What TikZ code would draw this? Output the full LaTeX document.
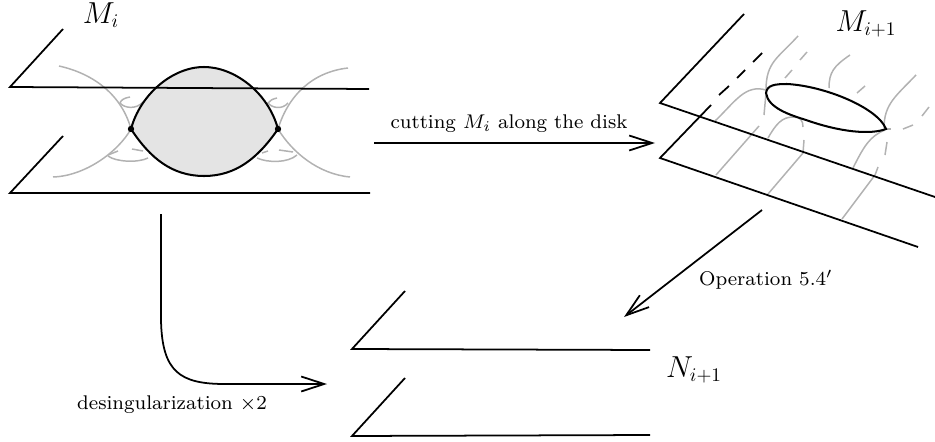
\documentclass[tikz,border=0pt]{standalone}
\usepackage{xcolor}
\usetikzlibrary{arrows.meta,positioning,calc}
\definecolor{diskgrey}{RGB}{228,228,228}
\definecolor{faintgrey}{RGB}{178,178,178}
\begin{document}
\begin{tikzpicture}[x=0.02cm,y=-0.02cm,
  sheet/.style={black,line width=1pt,line join=miter},
  faint/.style={faintgrey,line width=0.85pt},
  rim/.style={black,line width=1.15pt},
  arr/.style={-{Straight Barb[length=0.46cm,width=0.3cm,line width=1pt]},black,line width=1pt},
  biglabel/.style={font=\fontsize{16}{18}\selectfont,inner sep=0pt},
  smalllabel/.style={font=\footnotesize,scale=1.41,inner sep=0pt}]
  \useasboundingbox (0,0) rectangle (935,442);
  % left picture: disk first, sheets over it
  \coordinate (dl) at (131,129);
  \coordinate (dr) at (278,129);
  \fill[diskgrey] (dl) .. controls (140,95) and (172,67) .. (204,67) .. controls (234,67) and (268,92) .. (dr)
    .. controls (258,158) and (236,176) .. (204,176) .. controls (172,176) and (150,158) .. (dl);
  \draw[faint] (59,66) .. controls (95,74) and (122,96) .. (dl);
  \draw[faint] (53,177) .. controls (85,176) and (118,152) .. (dl);
  \draw[faint] (348,68) .. controls (312,72) and (288,96) .. (dr);
  \draw[faint] (350,177) .. controls (318,174) and (292,152) .. (dr);
  \draw[faint] (130,97) .. controls (124,98) and (121,100) .. (120,103) .. controls (124,108) and (136,110) .. (143,102);
  \draw[faint] (108,156) .. controls (116,162) and (138,163) .. (148,158);
  \draw[faint] (108,155) -- (118,151);
  \draw[faint] (132,149) -- (143,151);
  \draw[faint] (277,98) .. controls (273,99) and (270,100) .. (268,103) .. controls (272,108) and (282,110) .. (288,103);
  \draw[faint] (257,158) .. controls (268,163) and (288,163) .. (297,155);
  \draw[faint] (262,153) -- (268,151);
  \draw[faint] (279,150) -- (293,152);
  \draw[rim] (dl) .. controls (140,95) and (172,67) .. (204,67) .. controls (234,67) and (268,92) .. (dr)
    .. controls (258,158) and (236,176) .. (204,176) .. controls (172,176) and (150,158) .. (dl) -- cycle;
  \fill (dl) circle (3.2);
  \fill (dr) circle (3.2);
  \draw[sheet] (63,29) -- (10,87) -- (369,89);
  \draw[sheet] (63,136) -- (10,193) -- (370,193);
  \node[biglabel] (mi) at (101,15) {$M_i$};
  % right picture
  \draw[faint] (798,36) .. controls (778,58) and (766,62) .. (766,90);
  \draw[faint] (715,121) .. controls (735,102) and (745,84) .. (766,90);
  \draw[faint] (759,126) -- (716,175);
  \draw[faint] (850,55) .. controls (834,66) and (829,72) .. (829,88);
  \draw[faint] (916,75) .. controls (896,96) and (884,104) .. (884,128);
  \draw[faint] (768,138) .. controls (776,124) and (782,117) .. (793,117) .. controls (800,117) and (803,120) .. (803,127);
  \draw[faint] (804,140) -- (803,153) -- (768,194);
  \draw[faint] (885,130) .. controls (870,136) and (864,146) .. (853,168);
  \draw[faint] (878,167) -- (875,175) -- (842,219);
  \foreach \xa/\ya/\xb/\yb in {766/93/764/115,807/52/800/60,792/70/785/78,865/86/857/93,929/107/922/116,
      913/125/903/129,886/129/891/129,887/142/885/155}
    \draw[faint] (\xa,\ya) -- (\xb,\yb);
  \draw[rim] (766,93) .. controls (767,85) and (775,84) .. (787,84) .. controls (825,86) and (878,108) .. (886,129)
    .. controls (870,135) and (840,132) .. (806,120) .. controls (790,115) and (768,108) .. (766,93) -- cycle;
  \draw[sheet] (744,14) -- (660,103) -- (935,197);
  \draw[sheet] (711,105) -- (660,158) -- (918,247);
  \foreach \xa/\ya/\xb/\yb in {762/53/753/62,745/70/737/78,729/86/719/95}
    \draw[sheet] (\xa,\ya) -- (\xb,\yb);
  \node[biglabel] (mnext) at (866,24) {$M_{i+1}$};
  % bottom sheets
  \draw[sheet] (405,291) -- (352,349) -- (650,350);
  \draw[sheet] (405,378) -- (352,436) -- (650,435);
  \node[biglabel] (nnext) at (694,370) {$N_{i+1}$};
  % arrows
  \coordinate (cutfrom) at (374,143);
  \coordinate (cutto) at (655,143);
  \coordinate (opfrom) at (762,210);
  \coordinate (opto) at (624,317);
  \coordinate (desfrom) at (161,214);
  \coordinate (desto) at (327,384);
  \draw[arr] (cutfrom) -- (cutto);
  \draw[arr] (opfrom) -- (opto);
  \draw[arr] (desfrom) -- (161,320) .. controls (162,372) and (180,384) .. (225,384) -- (desto);
  \node[smalllabel] (cutlabel) at (509,124) {cutting $M_i$ along the disk};
  \node[smalllabel] (oplabel) at (766,280) {Operation 5.4$'$};
  \node[smalllabel] (deslabel) at (172,405) {desingularization\ $\times 2$};
\end{tikzpicture}
\end{document}
